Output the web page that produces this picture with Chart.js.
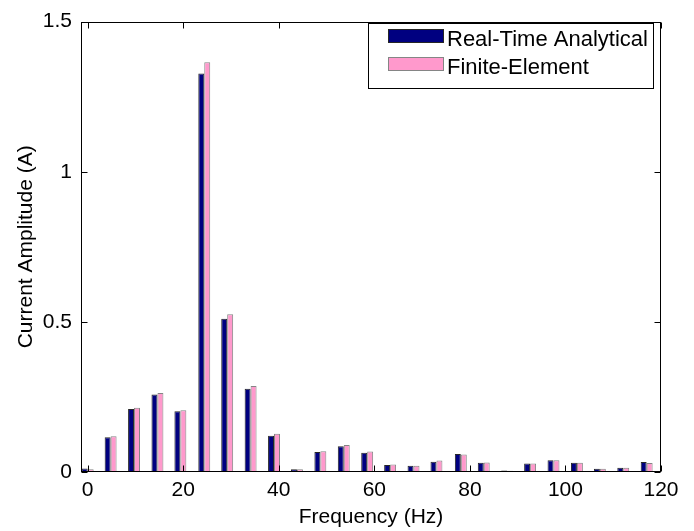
<!DOCTYPE html>
<html>
<head>
<meta charset="utf-8">
<script src="https://cdn.jsdelivr.net/npm/chart.js@4.4.0/dist/chart.umd.min.js"></script>
<style>
  html, body { margin: 0; padding: 0; background: #fff; }
  canvas { display: block; }
</style>
</head>
<body>
<canvas id="harmonics" width="694" height="531"></canvas>
<script>
// === harmonic spectrum, values ===
const frequencies = [0, 4.8, 9.7, 14.6, 19.4, 24.4, 29.2, 34.1, 39.0, 43.8, 48.7, 53.6,
  58.5, 63.3, 68.2, 73.0, 78.1, 82.9, 87.8, 92.6, 97.5, 102.4, 107.2, 112.1, 117.0];
const realTime = [0.012, 0.116, 0.210, 0.258, 0.202, 1.327, 0.510, 0.277, 0.121, 0.009, 0.067, 0.086,
  0.064, 0.023, 0.021, 0.034, 0.060, 0.031, 0.005, 0.028, 0.039, 0.031, 0.011, 0.014, 0.033];
const finiteElement = [0.009, 0.119, 0.214, 0.263, 0.206, 1.365, 0.525, 0.286, 0.127, 0.009, 0.069, 0.090,
  0.068, 0.025, 0.021, 0.038, 0.058, 0.032, 0.004, 0.028, 0.039, 0.031, 0.011, 0.014, 0.030];
const xTicks = [0, 20, 40, 60, 80, 100, 120];
const yTicks = [0, 0.5, 1, 1.5];

const FONT = '"Liberation Sans", Arial, Helvetica, sans-serif';
Chart.defaults.font.family = FONT;
Chart.defaults.font.size = 21;
Chart.defaults.color = '#000';

// box round the axes with inward ticks (matlab look)
const axesBox = {
  id: 'axesBox',
  afterDatasetsDraw(chart) {
    const { ctx, chartArea: a, scales: { x, y } } = chart;
    const L = Math.round(a.left) + 0.5, R = Math.round(a.right) - 0.5;
    const T = Math.round(a.top) + 0.5, B = Math.round(a.bottom) - 0.5;
    ctx.save();
    ctx.strokeStyle = '#000';
    ctx.lineWidth = 1;
    ctx.strokeRect(L, T, R - L, B - T);
    ctx.beginPath();
    xTicks.forEach(v => {
      const px = Math.round(x.getPixelForValue(v)) + 0.5;
      ctx.moveTo(px, B); ctx.lineTo(px, B - 6);
      ctx.moveTo(px, T); ctx.lineTo(px, T + 6);
    });
    yTicks.forEach(v => {
      const py = Math.round(y.getPixelForValue(v)) + 0.5;
      ctx.moveTo(L, py); ctx.lineTo(L + 6, py);
      ctx.moveTo(R, py); ctx.lineTo(R - 6, py);
    });
    ctx.stroke();
    ctx.restore();
  }
};

// legend box in the upper right corner
const boxLegend = {
  id: 'boxLegend',
  afterDraw(chart) {
    const { ctx } = chart;
    const left = 368.5, top = 23.5, w = 285, h = 65;
    ctx.save();
    ctx.fillStyle = '#fff';
    ctx.fillRect(left, top, w, h);
    ctx.strokeStyle = '#000';
    ctx.lineWidth = 1;
    ctx.strokeRect(left, top, w, h);
    ctx.font = '22px ' + FONT;
    ctx.textBaseline = 'alphabetic';
    ctx.textAlign = 'left';
    chart.data.datasets.forEach((ds, i) => {
      const sy = 29.5 + i * 28;
      ctx.fillStyle = ds.backgroundColor;
      ctx.fillRect(388.5, sy, 55, 13);
      ctx.strokeStyle = ds.borderColor;
      ctx.strokeRect(388.5, sy, 55, 13);
      ctx.fillStyle = '#000';
      ctx.fillText(ds.label, 447, 46 + i * 28);
    });
    ctx.restore();
  }
};

const ctx = document.getElementById('harmonics').getContext('2d');
new Chart(ctx, {
  type: 'bar',
  data: {
    datasets: [
      {
        label: 'Real-Time Analytical',
        data: frequencies.map((f, i) => ({ x: f, y: realTime[i] })),
        backgroundColor: '#000080',
        borderColor: '#262626',
        borderWidth: 1,
        categoryPercentage: 0.52,
        barPercentage: 1
      },
      {
        label: 'Finite-Element',
        data: frequencies.map((f, i) => ({ x: f, y: finiteElement[i] })),
        backgroundColor: '#ff99cc',
        borderColor: '#858585',
        borderWidth: 1,
        categoryPercentage: 0.52,
        barPercentage: 1
      }
    ]
  },
  options: {
    responsive: false,
    animation: false,
    events: [],
    layout: { padding: { top: 14, right: 33, left: 0, bottom: 0 } },
    plugins: { legend: { display: false }, tooltip: { enabled: false } },
    scales: {
      x: {
        type: 'linear',
        min: -1.4,
        max: 120,
        offset: false,
        grid: { display: false, drawTicks: false },
        border: { display: false },
        ticks: { padding: 6, maxRotation: 0, autoSkip: false, callback: v => String(v) },
        afterBuildTicks: s => { s.ticks = xTicks.map(v => ({ value: v })); },
        afterFit: s => { s.height = 59; },
        title: { display: true, text: 'Frequency (Hz)', padding: { top: 0, bottom: 1 } }
      },
      y: {
        min: 0,
        max: 1.5,
        grid: { display: false, drawTicks: false },
        border: { display: false },
        ticks: { padding: 9, callback: v => String(v) },
        afterBuildTicks: s => { s.ticks = yTicks.map(v => ({ value: v })); },
        afterFit: s => { s.width = 81; },
        title: { display: true, text: 'Current Amplitude (A)', padding: { top: 14, bottom: 0 } }
      }
    }
  },
  plugins: [axesBox, boxLegend]
});
</script>
</body>
</html>
